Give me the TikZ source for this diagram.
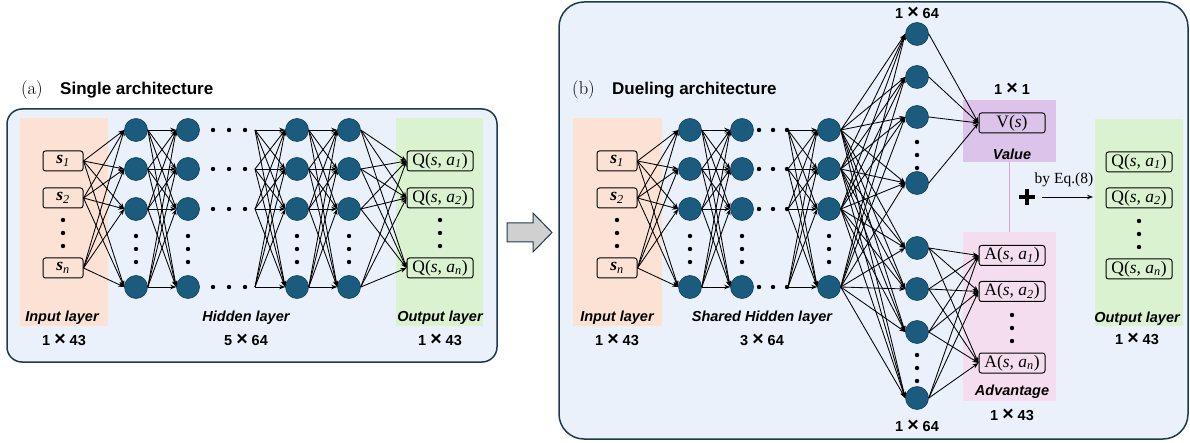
\documentclass[tikz,border=0pt]{standalone}
\usepackage{fontspec}
\usepackage{graphicx}
\setmainfont{Liberation Serif}
\setsansfont{Liberation Sans}
\newfontfamily\lmfont{Latin Modern Roman}
\usetikzlibrary{arrows.meta}

\definecolor{panelbg}{HTML}{EAF1FA}
\definecolor{panelline}{HTML}{1D3A4C}
\definecolor{neuronfill}{HTML}{1B5B7E}
\definecolor{neuronline}{HTML}{10405A}
\definecolor{inbg}{HTML}{FBE2D5}
\definecolor{outbg}{HTML}{DAF2D0}
\definecolor{valbg}{HTML}{DCC3EA}
\definecolor{advbg}{HTML}{F5DDF0}
\definecolor{linkpink}{HTML}{DDA0D0}
\definecolor{arrowgrey}{HTML}{D0D0D0}

\tikzset{
  panel/.style={fill=panelbg, draw=panelline, line width=1.5pt},
  region/.style={rectangle, inner sep=0pt, draw=none},
  neuron/.style={circle, fill=neuronfill, draw=neuronline, line width=0.6pt, minimum size=23pt, inner sep=0pt},
  valbox/.style={rectangle, draw=black, rounded corners=2.5pt, line width=1pt, minimum width=66pt, minimum height=20pt, inner sep=0pt, font=\fontsize{17.5}{18}\selectfont},
  inbox/.style={valbox, minimum width=40pt},
  conn/.style={-{Stealth[length=6pt,width=4.5pt]}, line width=0.85pt},
  lbl/.style={font=\sffamily\bfseries\itshape\fontsize{14.5}{15}\selectfont, inner sep=0pt},
  dimlbl/.style={font=\sffamily\bfseries\fontsize{14.5}{15}\selectfont, inner sep=0pt},
  ttl/.style={font=\sffamily\bfseries\fontsize{17}{18}\selectfont, inner sep=0pt, anchor=west},
  tag/.style={font=\lmfont\fontsize{18.5}{19}\selectfont, inner sep=0pt, anchor=west},
}

% layer size label: rows x columns with a large cross
\newcommand{\lsize}[2]{#1\ \raisebox{-0.3pt}{\scalebox{1.35}{×}}\ #2}

\newcommand{\vdotsat}[2]{%
  \fill (#1,#2) circle (2.2pt);
  \fill (#1,#2+13) circle (2.2pt);
  \fill (#1,#2+26) circle (2.2pt);}

\begin{document}
\begin{tikzpicture}[x=1pt,y=-1pt]
\useasboundingbox (0,0) rectangle (1190,443);

% ---------- panels ----------
\draw[panel, rounded corners=15pt] (7,109) rectangle (497,362);
\draw[panel, rounded corners=25pt] (559,2) rectangle (1188,439);

% transition arrow
\draw[fill=arrowgrey, draw=panelline, line width=1pt, line join=miter]
  (507,223) -- (533,223) -- (533,213) -- (552,232.5) -- (533,252) -- (533,242) -- (507,242) -- cycle;

% titles
\node[tag] (taga) at (21,90) {(a)};
\node[ttl] (ttla) at (60,90) {Single architecture};
\node[tag] (tagb) at (572,90) {(b)};
\node[ttl] (ttlb) at (612,90) {Dueling architecture};

% ---------- coloured layer regions ----------
\node[region, fill=inbg, minimum width=88pt, minimum height=208pt] (inA) at (64,222) {};
\node[region, fill=outbg, minimum width=87pt, minimum height=208pt] (outA) at (439.5,222) {};
\node[region, fill=inbg, minimum width=89pt, minimum height=208pt] (inB) at (617.5,222) {};
\node[region, fill=outbg, minimum width=88pt, minimum height=207pt] (outB) at (1139,222.5) {};
\node[region, fill=valbg, minimum width=93pt, minimum height=62pt] (valR) at (1009.5,131) {};
\node[region, fill=advbg, minimum width=93pt, minimum height=169pt] (advR) at (1009.5,316.5) {};
\draw[linkpink, line width=1.3pt] (valR.south) -- (advR.north);

% ---------- (a) single architecture ----------
\node[inbox] (as1) at (63,161) {\textbf{\textit{s}}\textsubscript{\textit{1}}};
\node[inbox] (as2) at (63,198) {\textbf{\textit{s}}\textsubscript{\textit{2}}};
\node[inbox] (asn) at (63,268) {\textbf{\textit{s}}\textsubscript{\textit{n}}};
\vdotsat{63}{220}

\foreach \c/\x in {1/136,2/188,3/297,4/349}{
  \foreach \r/\y in {1/130,2/169,3/209,4/287}{
    \node[neuron] (a\c-\r) at (\x,\y) {};
  }
  \vdotsat{\x}{236}
}
\foreach \r/\y in {1/130,2/169,3/209,4/287}{
  \foreach \x in {213,229,245} \fill (\x,\y) circle (2.2pt);
  \coordinate (av-\r) at (255,\y);
}

\node[valbox] (aq1) at (440,161) {Q(\textit{s}, \textit{a}\textsubscript{\textit{1}})};
\node[valbox] (aq2) at (440,198) {Q(\textit{s}, \textit{a}\textsubscript{\textit{2}})};
\node[valbox] (aqn) at (440,268) {Q(\textit{s}, \textit{a}\textsubscript{\textit{n}})};
\vdotsat{440}{220}

\foreach \i in {s1,s2,sn}
  \foreach \t in {1,...,4} \draw[conn] (a\i.east) -- (a1-\t.west);
\foreach \r in {1,...,4}
  \foreach \t in {1,...,4}{
    \draw[conn] (a1-\r.east) -- (a2-\t.west);
    \draw[conn] (av-\r) -- (a3-\t.west);
    \draw[conn] (a3-\r.east) -- (a4-\t.west);
  }
\foreach \r in {1,...,4}
  \foreach \j in {q1,q2,qn} \draw[conn] (a4-\r.east) -- (a\j.west);

\node[lbl] (inAl) at (62,318) {Input layer};
\node[dimlbl] (inAd) at (64,340) {\lsize{1}{43}};
\node[lbl] (hidAl) at (246,318) {Hidden layer};
\node[dimlbl] (hidAd) at (246,340) {\lsize{5}{64}};
\node[lbl] (outAl) at (440,318) {Output layer};
\node[dimlbl] (outAd) at (440,340) {\lsize{1}{43}};

% ---------- (b) dueling architecture ----------
\node[inbox] (bs1) at (617,161) {\textbf{\textit{s}}\textsubscript{\textit{1}}};
\node[inbox] (bs2) at (617,198) {\textbf{\textit{s}}\textsubscript{\textit{2}}};
\node[inbox] (bsn) at (617,268) {\textbf{\textit{s}}\textsubscript{\textit{n}}};
\vdotsat{617}{220}

\foreach \c/\x in {1/690,2/742,3/829}{
  \foreach \r/\y in {1/130,2/169,3/209,4/287}{
    \node[neuron] (b\c-\r) at (\x,\y) {};
  }
  \vdotsat{\x}{236}
}
\foreach \r/\y in {1/130,2/169,3/209,4/287}{
  \foreach \x in {759,773,787} \fill (\x,\y) circle (2.2pt);
  \coordinate (bv-\r) at (788,\y);
}

% value and advantage streams
\foreach \r/\y in {1/34,2/77,3/117,4/183} \node[neuron] (vn\r) at (917,\y) {};
\foreach \r/\y in {1/248,2/289,3/332,4/398} \node[neuron] (an\r) at (917,\y) {};
\vdotsat{917}{142}
\vdotsat{917}{355}

\node[valbox] (vs) at (1012,123) {V(\textit{s})};
\node[valbox] (aa1) at (1012,255.5) {A(\textit{s}, \textit{a}\textsubscript{\textit{1}})};
\node[valbox] (aa2) at (1012,291.5) {A(\textit{s}, \textit{a}\textsubscript{\textit{2}})};
\node[valbox] (aan) at (1012,363) {A(\textit{s}, \textit{a}\textsubscript{\textit{n}})};
\vdotsat{1012}{315}

\node[valbox] (bq1) at (1139,162) {Q(\textit{s}, \textit{a}\textsubscript{\textit{1}})};
\node[valbox] (bq2) at (1139,198) {Q(\textit{s}, \textit{a}\textsubscript{\textit{2}})};
\node[valbox] (bqn) at (1139,269) {Q(\textit{s}, \textit{a}\textsubscript{\textit{n}})};
\vdotsat{1139}{221}

\foreach \i in {s1,s2,sn}
  \foreach \t in {1,...,4} \draw[conn] (b\i.east) -- (b1-\t.west);
\foreach \r in {1,...,4}
  \foreach \t in {1,...,4}{
    \draw[conn] (b1-\r.east) -- (b2-\t.west);
    \draw[conn] (bv-\r) -- (b3-\t.west);
    \draw[conn] (b3-\r.east) -- (vn\t.west);
    \draw[conn] (b3-\r.east) -- (an\t.west);
  }
\foreach \r in {1,...,4}{
  \draw[conn] (vn\r.east) -- (vs.west);
  \foreach \j in {a1,a2,an} \draw[conn] (an\r.east) -- (a\j.west);
}

% aggregation
\draw[line width=4.5pt] (1019,197) -- (1035,197);
\draw[line width=4.5pt] (1027,189) -- (1027,205);
\coordinate (eqa) at (1042,197);
\coordinate (eqb) at (1093,197);
\draw[conn] (eqa) -- (eqb);
\node[font=\fontsize{15.5}{16}\selectfont, inner sep=0pt] (eqlbl) at (1064,180) {by Eq.(8)};

\node[lbl] (inBl) at (617,318) {Input layer};
\node[dimlbl] (inBd) at (617,340) {\lsize{1}{43}};
\node[lbl] (hidBl) at (762,318) {Shared Hidden layer};
\node[dimlbl] (hidBd) at (762,340) {\lsize{3}{64}};
\node[dimlbl] (topd) at (917,13) {\lsize{1}{64}};
\node[dimlbl] (botd) at (917,426) {\lsize{1}{64}};
\node[dimlbl] (vald) at (1012,89) {\lsize{1}{1}};
\node[lbl] (vall) at (1012,154) {Value};
\node[lbl] (advl) at (1012,392) {Advantage};
\node[dimlbl] (advd) at (1012,415) {\lsize{1}{43}};
\node[lbl] (outBl) at (1137,319) {Output layer};
\node[dimlbl] (outBd) at (1137,339) {\lsize{1}{43}};
\end{tikzpicture}
\end{document}
